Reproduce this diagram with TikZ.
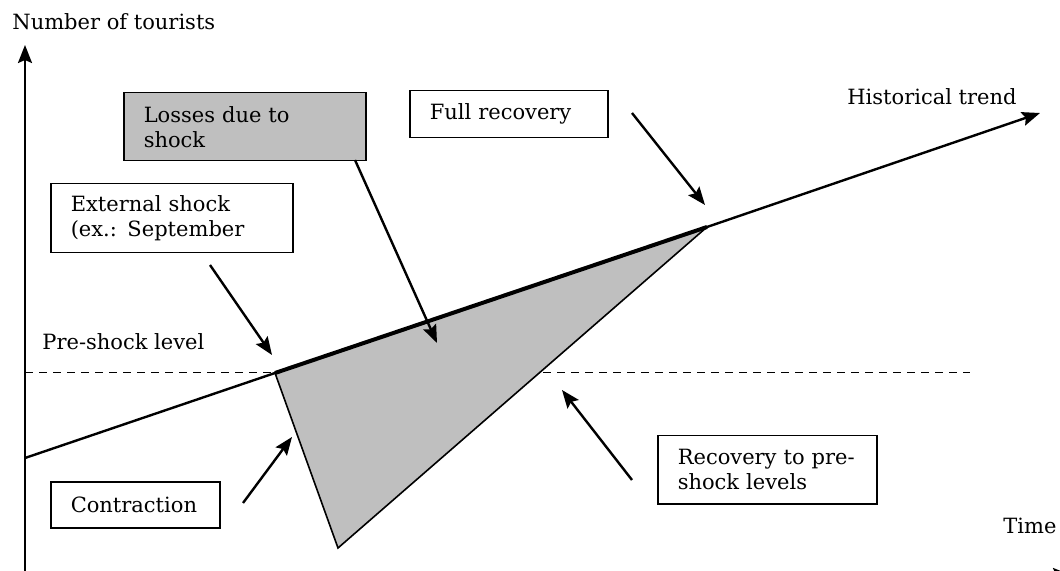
\documentclass[tikz,border=0pt]{standalone}
\usepackage{fontspec}
\setmainfont{DejaVu Serif}
\usetikzlibrary{arrows.meta,positioning}
\tikzset{
    box nodes/.style={
        draw,
        line width=0.75pt,
        anchor=north west,
        align=left,
        inner xsep=10pt,
        inner ysep=0pt,
        font=\fontsize{10.5}{12.5}\selectfont
    },
    plain text/.style={
        anchor=west,
        inner sep=0pt,
        font=\fontsize{10.5}{12.5}\selectfont
    },
    pointer/.style={
        -{Stealth[length=9pt,width=7pt,inset=1.5pt]},
        line width=1.2pt
    }
}

\begin{document}
\begin{tikzpicture}[x=0.5pt,y=-0.5pt]
    \useasboundingbox (0,0) rectangle (1060,571);
    % key points of the curve
    \coordinate (O) at (25,575);
    \coordinate (shock) at (275,373);
    \coordinate (full) at (707,227);
    \coordinate (trough) at (338,548);
    % axes
    \draw[pointer] (25,580) -- (25,45);
    \draw[pointer] (O) -- (1071,575);
    \node[plain text] (ylabel) at (12,22) {Number of tourists};
    \node[plain text] (xlabel) at (1003,526) {Time};
    % pre-shock level and trend
    \draw[dashed,dash pattern=on 4pt off 3pt,line width=0.5pt] (25,373) -- (970,373);
    \fill[black!25] (shock) -- (full) -- (trough) -- cycle;
    \draw[line width=0.8pt] (shock) -- (trough) -- (full);
    \draw[pointer] (25,458) -- (shock) -- (full) -- (1040,113);
    \draw[line width=2pt] (shock) -- (full);
    \node[plain text] (trend) at (847,97) {Historical trend};
    \node[plain text] (level) at (42,342) {Pre-shock level};
    % boxes
    \node[box nodes,fill=black!25,text width=101pt,minimum height=34pt] (losses) at (123,92) {Losses due to\\shock};
    \node[box nodes,text width=79pt,minimum height=23.5pt] (recovery) at (409,90) {Full recovery};
    \node[box nodes,text width=101pt,minimum height=34.5pt] (external) at (50,183) {External shock\\(ex.: September};
    \node[box nodes,text width=64.5pt,minimum height=23pt] (contraction) at (50,481) {Contraction};
    \node[box nodes,text width=89.5pt,minimum height=34pt] (preshock) at (657,435) {Recovery to pre-\\shock levels};
    % arrows from the boxes
    \coordinate (losses-from) at (355,160);
    \coordinate (losses-to) at (437,343);
    \coordinate (recovery-from) at (632,113);
    \coordinate (recovery-to) at (705,205);
    \coordinate (external-from) at (210,265);
    \coordinate (external-to) at (272,355);
    \coordinate (contraction-from) at (243,503);
    \coordinate (contraction-to) at (292,437);
    \coordinate (preshock-from) at (632,480);
    \coordinate (preshock-to) at (562,390);
    \foreach \s in {losses,recovery,external,contraction,preshock}
      \draw[pointer] (\s-from) -- (\s-to);
\end{tikzpicture}
\end{document}
